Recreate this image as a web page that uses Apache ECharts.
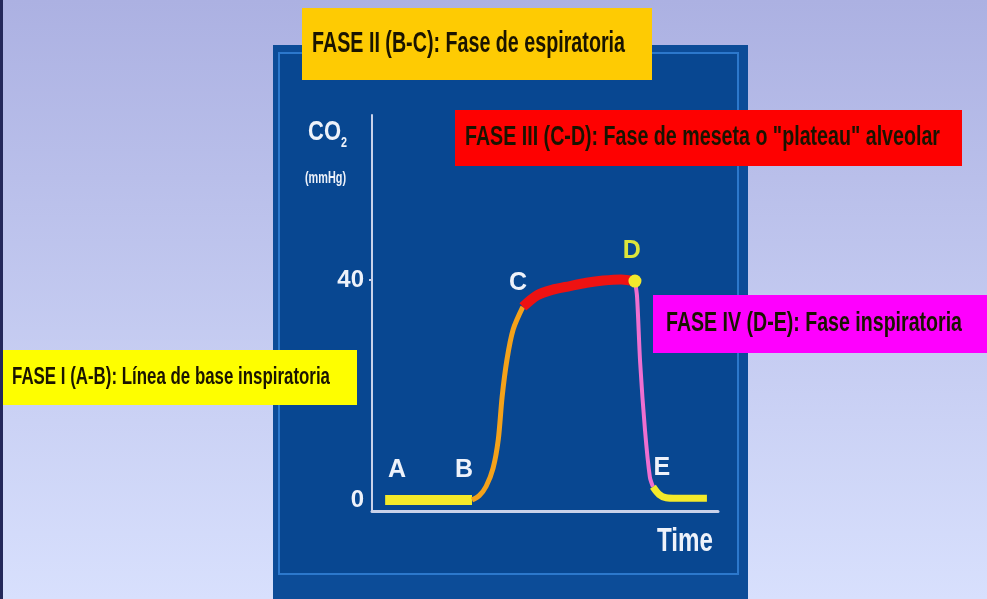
<!DOCTYPE html>
<html><head><meta charset="utf-8">
<script src="https://cdn.jsdelivr.net/npm/echarts@6/dist/echarts.min.js"></script>
<style>html,body{margin:0;padding:0;}#c{width:987px;height:599px;}</style>
</head><body><div id="c"></div>
<script>
// ---- data (time units, CO2 mmHg) ----
const phaseI   = [[3.8,0],[28.9,0]];                                   // A-B
const phaseII  = [[28.9,0],[31,0.8],[33,2.5],[35,5.8],[36.5,11],[37.6,18.7],[39,25.5],[40.8,31],[43.6,35.1]]; // B-C
const phaseIII = [[43.6,35.1],[47.7,37.2],[52,38.2],[57.2,38.9],[62,39.5],[66.8,39.9],[72,40.1],[76,39.8]];   // C-D
const phaseIV  = [[76,39.8],[76.6,37],[77.5,25],[78.9,12.7],[80.3,4.2],[81.2,2.4]];                           // D-E
const tail     = [[81.2,2.4],[83,1.0],[85,0.4],[88,0.3],[96.8,0.3]];
const pointD   = [[76,39.8]];
const pointLabels = [
  {name:'A', value:[7.2,5.5]},
  {name:'B', value:[26.6,5.5]},
  {name:'C', value:[42.2,39.5]},
  {name:'D', value:[75.1,45.2]},
  {name:'E', value:[83.8,5.8]}
];
const yTickValues = [0,40];
const yAxisTitle = 'CO';
const yAxisSub = '2';
const yAxisUnit = '(mmHg)';
const xAxisTitle = 'Time';
const phaseTexts = {
  II: 'FASE II (B-C): Fase de espiratoria',
  III: 'FASE III (C-D): Fase de meseta o "plateau" alveolar',
  IV: 'FASE IV (D-E): Fase inspiratoria',
  I: 'FASE I (A-B): Línea de base inspiratoria'
};

const FONT = '"Liberation Sans",Arial,sans-serif';
const ctx = document.createElement('canvas').getContext('2d');
function fit(text, font, target){ ctx.font = font; return target / ctx.measureText(text).width; }

function label(text, x, y, fs, targetW, color, vAlign){
  const font = 'bold ' + fs + 'px ' + FONT;
  return {type:'text', x:x, y:y, scaleX:fit(text, font, targetW),
    style:{text:text, fill:color, font:font, textVerticalAlign:vAlign||'middle'}, z:11};
}
function box(x,y,w,h,fill,text,tx,fs,tw){
  return [
    {type:'rect', shape:{x:x,y:y,width:w,height:h}, style:{fill:fill}, z:10},
    label(text, tx, y+h/2, fs, tw, '#1a1400')
  ];
}

const chart = echarts.init(document.getElementById('c'));
const option = {
  animation:false,
  backgroundColor:{type:'linear',x:0,y:0,x2:0,y2:1,colorStops:[{offset:0,color:'#acb1e2'},{offset:1,color:'#d8e0fd'}]},
  grid:{left:372, right:269, top:115, bottom:88},
  xAxis:{type:'value', min:0, max:100, splitLine:{show:false},
    axisLine:{show:true, onZero:false, lineStyle:{color:'#c9d2ea', width:3}},
    axisTick:{show:false}, axisLabel:{show:false}
  },
  yAxis:{type:'value', min:-2, max:70, splitLine:{show:false},
    axisLine:{show:true, onZero:false, lineStyle:{color:'#c9d2ea', width:2}},
    axisTick:{show:true, customValues:[40], length:3, lineStyle:{color:'#c9d2ea', width:2}},
    axisLabel:{customValues:yTickValues, color:'#eef2fa', fontSize:24, fontWeight:'bold', fontFamily:FONT, margin:8}
  },
  graphic:[
    {type:'rect', shape:{x:0,y:0,width:3,height:599}, style:{fill:'#24285a'}, z:-5},
    {type:'rect', shape:{x:273,y:45,width:475,height:560}, style:{fill:'#0c4c98'}, z:-5},
    {type:'rect', shape:{x:279,y:53,width:459,height:521}, style:{fill:'#084791', stroke:'#2c78cc', lineWidth:2}, z:-4},
    label(yAxisTitle, 308, 133, 27, 33, '#eef2fa'),
    label(yAxisSub, 341, 143, 15, 6, '#eef2fa'),
    label(yAxisUnit, 305, 178, 17, 41, '#eef2fa'),
    label(xAxisTitle, 657, 542, 33, 56, '#eef2fa'),
    ...box(302,8,350,72,'#fecb03',phaseTexts.II,312,29,313),
    ...box(455,110,507,56,'#fe0101',phaseTexts.III,465,27,475),
    ...box(653,295,334,58,'#fe00fe',phaseTexts.IV,666,27,296),
    ...box(3,350,354,55,'#fefe00',phaseTexts.I,12,24,318)
  ],
  series:[
    {type:'line', data:phaseI, showSymbol:false, lineStyle:{color:'#f4ea2a', width:10}, z:3},
    {type:'line', data:phaseII, smooth:0.3, showSymbol:false, lineStyle:{color:'#f4a21a', width:5}, z:3},
    {type:'line', data:phaseIII, smooth:0.3, showSymbol:false, lineStyle:{color:'#ee1212', width:10}, z:4},
    {type:'line', data:phaseIV, smooth:0.3, showSymbol:false, lineStyle:{color:'#ef6fd0', width:4}, z:3},
    {type:'line', data:tail, smooth:0.3, showSymbol:false, lineStyle:{color:'#f4ea2a', width:7}, z:3},
    {type:'scatter', data:pointD, symbolSize:13, itemStyle:{color:'#f2ea2c', opacity:1}, z:5},
    {type:'scatter', symbolSize:1, z:5,
      data: pointLabels.map(p => p.name==='D' ? Object.assign({}, p, {label:{color:'#dde63a'}}) : p),
      label:{show:true, position:'inside', formatter:p=>p.name, fontSize:25, fontWeight:'bold', fontFamily:'"Liberation Sans Narrow","Liberation Sans",sans-serif',
        color:'#eef2fa'},
      itemStyle:{color:'rgba(0,0,0,0)', opacity:1}
    }
  ]
};
chart.setOption(option);
</script></body></html>
